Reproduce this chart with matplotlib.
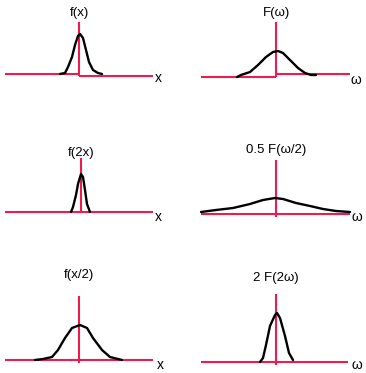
#------------------------------------------------------------------------------
# Scaling property of the Fourier transform: six small sketch panels.
#------------------------------------------------------------------------------

import matplotlib as mpl
mpl.use('Agg')
import matplotlib.pyplot as plt

plt.rcParams['font.family'] = ['Liberation Sans', 'DejaVu Sans']

RED = '#ee1a50'

titles = ['f(x)', 'F(\u03c9)', 'f(2x)', '0.5 F(\u03c9/2)', 'f(x/2)', '2 F(2\u03c9)']
axis_labels = ['x', '\u03c9', 'x', '\u03c9', 'x', '\u03c9']

# curves: offset from the vertical axis, height above the horizontal axis
curve_x = [
    [-19, -14, -11, -7, -4, -1, 1, 4, 7, 10, 14, 19, 23],
    [-39, -35, -26, -18, -10, -3, 2, 7, 14, 22, 29, 35, 40],
    [-10, -8, -5, -3, 0, 2, 4, 6, 9],
    [-75, -60, -43, -26, -13, -1, 7, 20, 34, 47, 60, 74],
    [-44, -36, -27, -21, -14, -7, 1, 8, 14, 23, 31, 43],
    [-16, -13, -10, -6, -1, 1, 4, 9, 13, 17],
]
curve_y = [
    [0, 1, 7, 17, 29, 38, 40, 36, 24, 12, 4, 1, 0],
    [0, 2, 5, 12, 20, 25, 26, 24, 17, 9, 4, 2, 2],
    [0, 5, 17, 28, 38, 35, 22, 8, 0],
    [2, 4, 6, 10, 14, 16, 15, 11, 8, 5, 3, 2],
    [0, 1, 3, 10, 22, 32, 35, 32, 22, 10, 3, 0],
    [0, 4, 17, 36, 47, 49, 44, 26, 9, 2],
]

# red axes: left arm, right arm (with its small step), vertical arm
left_arm = [-74, -75, -76, -75, -74, -75]
right_arm = [74, 74, 72, 74, 74, 72]
right_step = [-2, 3, 0, 0, 0, 0]
vert_bottom = [-2, 0, 0, -3, -3, -3]
vert_top = [52, 55, 54, 54, 64, 68]

#------------------------------------------------------------------------------
# layout (pixels): origin of each sketch and where its texts sit
W, H = 366, 373
origins = [(79, 74), (276, 77), (81, 212), (276, 214), (79, 360), (276, 362)]
title_h = [61, 64, 59, 64, 85, 84]
label_pos = [(79, -4), (80, -3), (77, -5), (81, -3), (81, -5), (81, -3)]
bands = [(0, 124), (124, 248), (248, 373)]

fig = plt.figure(figsize=(W / 100, H / 100), dpi=100)

for i in range(6):
    row, col = divmod(i, 2)
    ox, oy = origins[i]
    top, bottom = bands[row]
    x0 = col * W / 2
    ax = fig.add_axes([x0 / W, 1 - bottom / H, 0.5, (bottom - top) / H])
    ax.set_xlim(x0 - ox, x0 + W / 2 - ox)
    ax.set_ylim(oy - bottom, oy - top)
    ax.axis('off')

    ax.plot([left_arm[i], 0], [0, 0], color=RED, lw=1.5, solid_capstyle='butt')
    ax.plot([0, right_arm[i]], [right_step[i], right_step[i]], color=RED, lw=1.5,
            solid_capstyle='butt')
    ax.plot([0, 0], [vert_bottom[i], vert_top[i]], color=RED, lw=1.5,
            solid_capstyle='butt')
    ax.plot(curve_x[i], curve_y[i], color='black', lw=1.7,
            solid_joinstyle='round', solid_capstyle='round')

    ax.text(0, title_h[i], titles[i], ha='center', va='center', fontsize=9.5)
    lx, ly = label_pos[i]
    ax.text(lx, ly, axis_labels[i], ha='center', va='center', fontsize=10)

fig.savefig('out.png', dpi=100)
